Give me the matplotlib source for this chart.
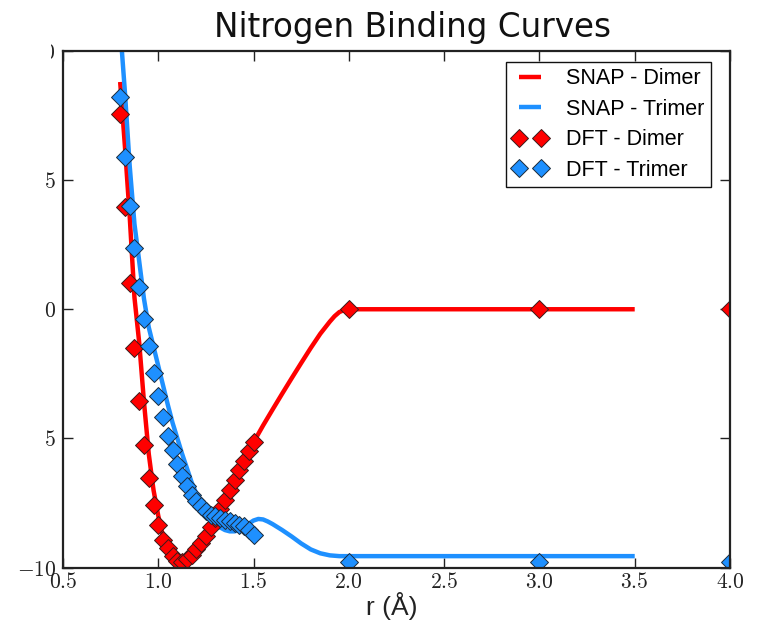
import matplotlib
matplotlib.use("Agg")
import matplotlib.pyplot as plt
from matplotlib.transforms import Bbox, TransformedBbox

# ---- data -----------------------------------------------------------------
# SNAP fitted curves (r in Angstrom, energy)
snap_r_dimer = [0.80, 0.825, 0.85, 0.875, 0.90, 0.925, 0.95, 0.975, 1.00, 1.025,
                1.05, 1.075, 1.10, 1.125, 1.15, 1.175, 1.20, 1.225, 1.25, 1.275,
                1.30, 1.35, 1.40, 1.45, 1.50, 1.55, 1.60, 1.65, 1.70, 1.75,
                1.80, 1.85, 1.90, 1.925, 1.95, 1.975, 2.00, 2.50, 3.00, 3.50]
snap_e_dimer = [8.8, 6.3, 3.6, 0.45, -1.3, -3.6, -5.6, -7.0, -8.0, -8.8,
                -9.25, -9.6, -9.78, -9.8, -9.7, -9.5, -9.28, -9.0, -8.72, -8.42,
                -8.1, -7.4, -6.65, -5.9, -5.15, -4.5, -3.88, -3.27, -2.67, -2.08,
                -1.5, -0.95, -0.48, -0.27, -0.11, -0.03, 0.0, 0.0, 0.0, 0.0]

snap_r_trimer = [0.80, 0.825, 0.85, 0.875, 0.90, 0.925, 0.95, 0.975, 1.00, 1.025,
                 1.05, 1.075, 1.10, 1.125, 1.15, 1.175, 1.20, 1.225, 1.25, 1.275,
                 1.30, 1.325, 1.35, 1.375, 1.40, 1.425, 1.45, 1.475, 1.50, 1.525,
                 1.55, 1.575, 1.60, 1.65, 1.70, 1.75, 1.80, 1.85, 1.90, 1.95,
                 2.00, 2.50, 3.00, 3.50]
snap_e_trimer = [10.9, 8.4, 5.55, 3.3, 1.85, 0.4, -0.7, -1.45, -2.2, -2.95,
                 -3.7, -4.4, -5.0, -5.6, -6.15, -6.7, -7.15, -7.55, -7.85, -8.1,
                 -8.3, -8.45, -8.55, -8.6, -8.6, -8.55, -8.45, -8.3, -8.18, -8.12,
                 -8.14, -8.22, -8.32, -8.55, -8.8, -9.07, -9.3, -9.45, -9.53, -9.56,
                 -9.56, -9.56, -9.56, -9.56]

# DFT reference points
dft_r = [0.800, 0.825, 0.850, 0.875, 0.900, 0.925, 0.950, 0.975, 1.000, 1.025,
         1.050, 1.075, 1.100, 1.125, 1.150, 1.175, 1.200, 1.225, 1.250, 1.275,
         1.300, 1.325, 1.350, 1.375, 1.400, 1.425, 1.450, 1.475, 1.500,
         2.0, 3.0, 4.0]
dft_e_dimer = [7.57, 3.94, 1.0, -1.5, -3.55, -5.25, -6.54, -7.57, -8.34, -8.92,
               -9.24, -9.55, -9.75, -9.8, -9.69, -9.5, -9.3, -9.05, -8.79, -8.45,
               -8.1, -7.75, -7.38, -7.0, -6.62, -6.24, -5.86, -5.5, -5.15,
               0.0, 0.0, 0.0]
dft_e_trimer = [8.2, 5.9, 3.98, 2.36, 0.85, -0.36, -1.43, -2.45, -3.37, -4.19,
                -4.9, -5.45, -6.0, -6.45, -6.85, -7.18, -7.44, -7.63, -7.83, -7.95,
                -8.02, -8.08, -8.15, -8.21, -8.27, -8.34, -8.4, -8.53, -8.73,
                -9.8, -9.8, -9.8]

x_ticks = [0.5, 1.0, 1.5, 2.0, 2.5, 3.0, 3.5, 4.0]
x_labels = ["0.5", "1.0", "1.5", "2.0", "2.5", "3.0", "3.5", "4.0"]
y_ticks = [-10, -5, 0, 5, 10]
y_labels = ["-10", "-5", "0", "5", "10"]

title_text = "Nitrogen Binding Curves"
xlabel_text = "r (Å)"
series_names = ["SNAP - Dimer", "SNAP - Trimer", "DFT - Dimer", "DFT - Trimer"]

# ---- figure ---------------------------------------------------------------
plt.rcParams["mathtext.fontset"] = "cm"
RED = "#ff0000"
BLUE = "#1e90ff"

W, H = 759, 620
fig = plt.figure(figsize=(W / 100, H / 100), dpi=100)
ax = fig.add_axes([63 / W, 1 - 567.5 / H, (730 - 63) / W, (567.5 - 51) / H])

ax.plot(snap_r_dimer, snap_e_dimer, color=RED, lw=3.2, label=series_names[0],
        solid_capstyle="butt", solid_joinstyle="round")
ax.plot(snap_r_trimer, snap_e_trimer, color=BLUE, lw=3.2, label=series_names[1],
        solid_capstyle="butt", solid_joinstyle="round")
ax.plot(dft_r, dft_e_dimer, ls="none", marker="D", ms=9, mfc=RED,
        mec="#3a1a1a", mew=0.7, label=series_names[2])
ax.plot(dft_r, dft_e_trimer, ls="none", marker="D", ms=9, mfc=BLUE,
        mec="#1a2a3a", mew=0.7, label=series_names[3])

ax.set_xlim(0.5, 4.0)
ax.set_ylim(-10, 10)

ax.set_xticks(x_ticks)
ax.set_xticklabels([f"${s}$" for s in x_labels])
ax.set_yticks(y_ticks)
ax.set_yticklabels([f"${s}$" for s in y_labels])
ax.tick_params(direction="in", length=7, width=1, top=True, right=True,
               labelsize=15.5, colors="#222222")
ax.tick_params(axis="x", pad=3)
ax.tick_params(axis="y", pad=5)
for sp in ax.spines.values():
    sp.set_linewidth(1.6)
    sp.set_color("#222222")

# left margin of the y labels is masked by the slide frame
for val, lab in zip(y_ticks, ax.get_yticklabels()):
    if val == -10:
        continue
    left = 51 if val == 10 else 45
    lab.set_clip_box(TransformedBbox(Bbox.from_extents(left / W, 0, 1, 1),
                                     fig.transFigure))
    lab.set_clip_on(True)

leg = ax.legend(loc="upper right", numpoints=2, fancybox=False,
                bbox_to_anchor=(711 / W, 1 - 62 / H),
                bbox_transform=fig.transFigure,
                prop={"family": "Liberation Sans", "size": 15.5},
                handlelength=1.65, handletextpad=0.85, labelspacing=0.44,
                borderpad=0.3, borderaxespad=0.0, framealpha=1)
leg.get_frame().set_edgecolor("#111111")
leg.get_frame().set_linewidth(1.0)

fig.text(412 / W, 1 - 28 / H, title_text, ha="center", va="center",
         fontsize=23.5, family="DejaVu Sans", color="#111111")
fig.text(392 / W, 1 - 606 / H, xlabel_text, ha="center", va="center",
         fontsize=19, family=["Liberation Sans Narrow", "Liberation Sans"],
         color="#222222")

fig.savefig("out.png", dpi=100)
